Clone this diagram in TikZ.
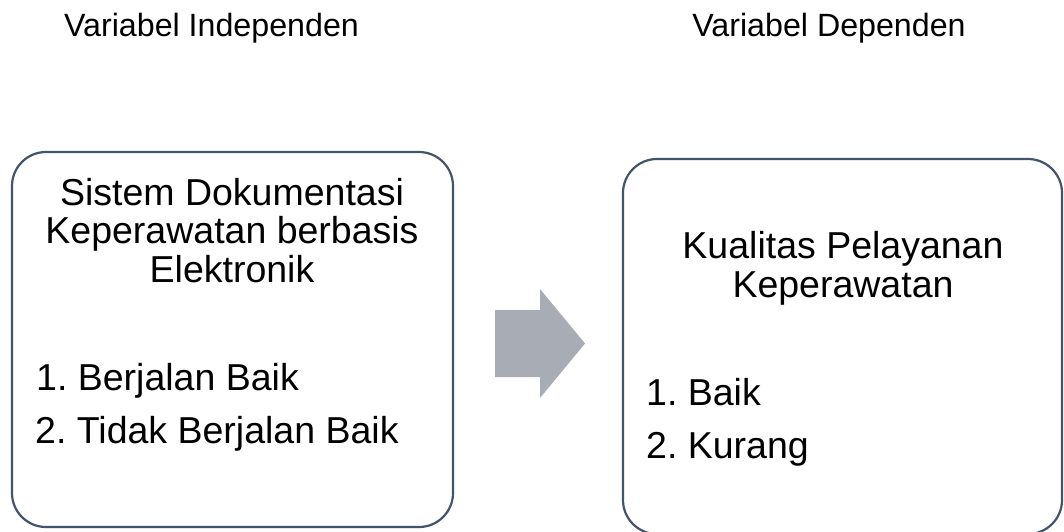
\documentclass[tikz,border=0pt]{standalone}
\usepackage{fontspec}
\setmainfont{Liberation Sans}
\frenchspacing
\definecolor{boxline}{RGB}{68,84,106}
\definecolor{arrowgray}{RGB}{168,172,180}
\begin{document}
\begin{tikzpicture}[x=1pt,y=-1pt,
  varbox/.style={draw=boxline,line width=2.2pt,rounded corners=34pt},
  titletext/.style={font=\fontsize{32.2}{36}\selectfont\frenchspacing,anchor=base,inner sep=0pt},
  boxtext/.style={font=\fontsize{37.5}{40}\selectfont\frenchspacing,anchor=base,inner sep=0pt},
  itemtext/.style={font=\fontsize{37.5}{40}\selectfont\frenchspacing,anchor=base west,inner sep=0pt}]
\useasboundingbox[fill=white] (0,0) rectangle (1064,531);
\begin{scope}
\clip (0,0) rectangle (1064,531);
% titles
\node[titletext] (t1) at (211.5,36) {Variabel Independen};
\node[titletext] (t2) at (829,36) {Variabel Dependen};
% left box
\draw[varbox] (12,152) rectangle (453,527);
\node[boxtext] (l1) at (232,205) {Sistem Dokumentasi};
\node[boxtext] (l2) at (232,243.5) {Keperawatan berbasis};
\node[boxtext] (l3) at (232,282) {Elektronik};
\node[itemtext] (l4) at (36,390) {1. Berjalan Baik};
\node[itemtext] (l5) at (35,443) {2. Tidak Berjalan Baik};
% block arrow
\fill[arrowgray] (495,310) -- (540,310) -- (540,289) -- (585,343.5) -- (540,398) -- (540,377) -- (495,377) -- cycle;
% right box
\draw[varbox] (623,159) rectangle (1062,534);
\node[boxtext] (r1) at (843,258) {Kualitas Pelayanan};
\node[boxtext] (r2) at (843,297) {Keperawatan};
\node[itemtext] (r3) at (646,405) {1. Baik};
\node[itemtext] (r4) at (646,458) {2. Kurang};
\end{scope}
\end{tikzpicture}
\end{document}
